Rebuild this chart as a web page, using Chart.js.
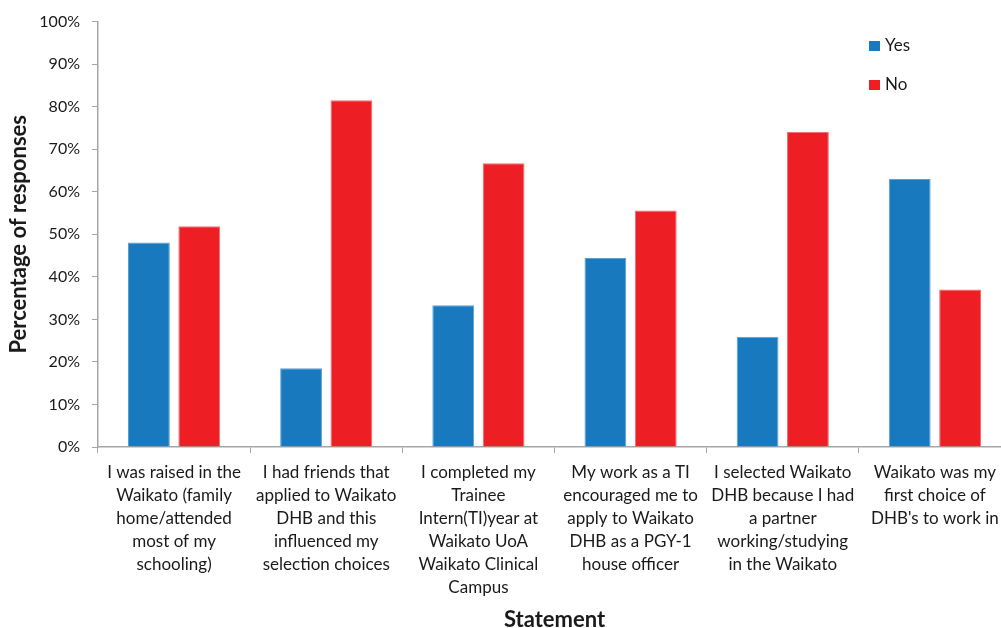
<!DOCTYPE html>
<html>
<head>
<meta charset="utf-8">
<title>Percentage of responses by statement</title>
<script src="https://cdn.jsdelivr.net/npm/chart.js@4"></script>
<style>
  html, body { margin: 0; padding: 0; background: #fff; overflow: hidden; }
  #wrap { width: 1012px; height: 628px; }
</style>
</head>
<body>
<div id="wrap"><canvas id="statementChart" width="1012" height="628"></canvas></div>
<script>
// statements, each split into the lines shown under the axis
const statements = [
    ['I was raised in the', 'Waikato (family', 'home/attended', 'most of my', 'schooling)'],
    ['I had friends that', 'applied to Waikato', 'DHB and this', 'influenced my', 'selection choices'],
    ['I completed my', 'Trainee', 'Intern(TI)year at', 'Waikato UoA', 'Waikato Clinical', 'Campus'],
    ['My work as a TI', 'encouraged me to', 'apply to Waikato', 'DHB as a PGY-1', 'house officer'],
    ['I selected Waikato', 'DHB because I had', 'a partner', 'working/studying', 'in the Waikato'],
    ['Waikato was my', 'first choice of', "DHB's to work in"]
];

const yesValues = [48.1, 18.5, 33.3, 44.4, 25.9, 63.0];
const noValues = [51.9, 81.5, 66.7, 55.6, 74.1, 37.0];

const yTicks = [0, 10, 20, 30, 40, 50, 60, 70, 80, 90, 100];

const blue = '#1879bf';
const red = '#ee1f24';
const axisGrey = '#a6a6a6';
const textColor = '#1a1a1a';
const fontFamily = 'Lato, "Open Sans", sans-serif';

// small vertical legend drawn inside the plot, top right
const sideLegend = {
    id: 'sideLegend',
    afterDraw(chart) {
        const ctx = chart.ctx;
        ctx.save();
        ctx.font = '17px ' + fontFamily;
        ctx.textBaseline = 'middle';
        ctx.textAlign = 'left';
        chart.data.datasets.forEach(function(ds, i) {
            const y = 46 + i * 39;
            ctx.fillStyle = ds.backgroundColor;
            ctx.fillRect(869, y - 5, 11, 10);
            ctx.fillStyle = textColor;
            ctx.fillText(ds.label, 885, y);
        });
        ctx.restore();
    }
};

const ctx = document.getElementById('statementChart').getContext('2d');
new Chart(ctx, {
    type: 'bar',
    data: {
        labels: statements,
        datasets: [{
            label: 'Yes',
            data: yesValues,
            backgroundColor: blue,
            borderColor: '#5c9fd3',
            borderWidth: 1,
            categoryPercentage: 0.662,
            barPercentage: 0.83
        }, {
            label: 'No',
            data: noValues,
            backgroundColor: red,
            borderColor: '#f36a6d',
            borderWidth: 1,
            categoryPercentage: 0.662,
            barPercentage: 0.83
        }]
    },
    options: {
        responsive: false,
        animation: false,
        layout: { padding: { top: 19.5, right: 1, bottom: 0, left: 0 } },
        plugins: {
            legend: { display: false },
            tooltip: { enabled: false }
        },
        scales: {
            x: {
                grid: {
                    drawOnChartArea: false,
                    color: axisGrey,
                    tickLength: 6
                },
                border: { color: axisGrey, width: 1.5 },
                ticks: {
                    color: textColor,
                    font: { family: fontFamily, size: 17, lineHeight: 1.353 },
                    padding: 8,
                    maxRotation: 0,
                    autoSkip: false
                },
                title: {
                    display: true,
                    text: 'Statement',
                    color: textColor,
                    font: { family: fontFamily, size: 22, weight: 'bold', lineHeight: 0.73 },
                    padding: { top: 0, bottom: 0 }
                },
                afterFit: function(scale) { scale.height = 181; }
            },
            y: {
                min: 0,
                max: 100,
                afterBuildTicks: function(scale) {
                    scale.ticks = yTicks.map(v => ({ value: v }));
                },
                grid: {
                    drawOnChartArea: false,
                    color: axisGrey,
                    tickLength: 6
                },
                border: { color: axisGrey, width: 1.5 },
                ticks: {
                    color: textColor,
                    font: { family: fontFamily, size: 16 },
                    padding: 12,
                    callback: v => v + '%'
                },
                title: {
                    display: true,
                    text: 'Percentage of responses',
                    color: textColor,
                    font: { family: fontFamily, size: 22, weight: 'bold' },
                    padding: { top: 6, bottom: 0 }
                },
                afterFit: function(scale) { scale.width = 98; }
            }
        }
    },
    plugins: [sideLegend]
});
</script>
</body>
</html>
